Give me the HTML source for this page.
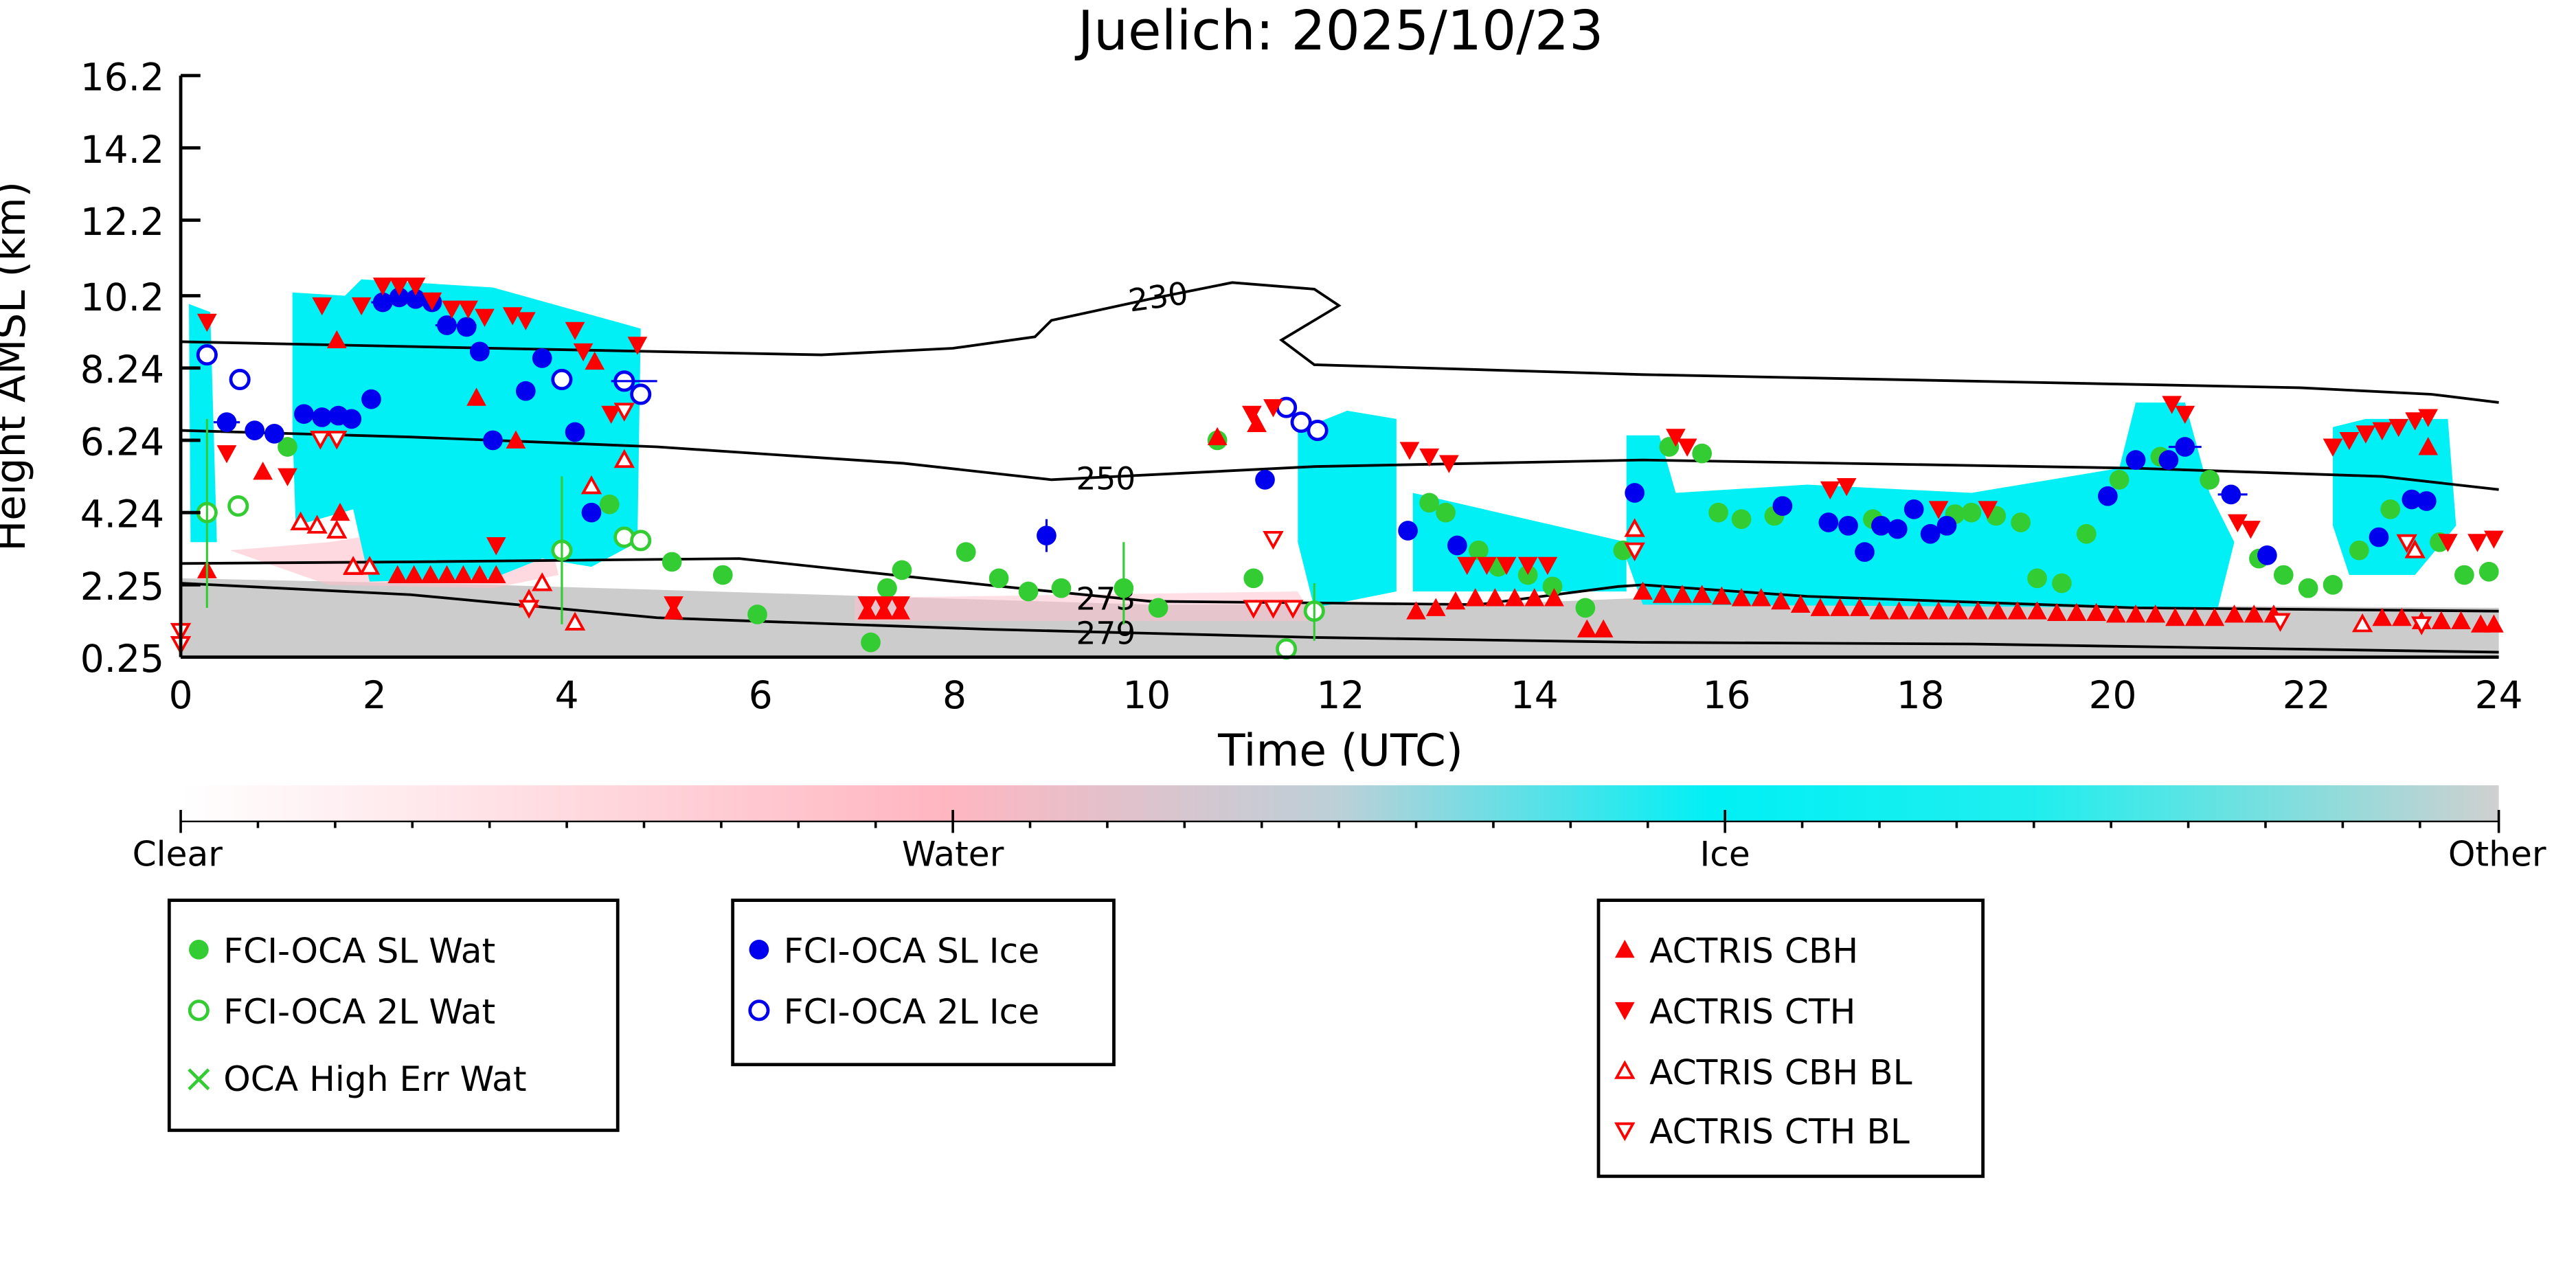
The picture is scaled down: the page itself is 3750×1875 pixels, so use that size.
<!DOCTYPE html>
<html><head><meta charset="utf-8"><style>
html,body{margin:0;padding:0;background:#fff}
svg{display:block}
text{font-family:"DejaVu Sans","Liberation Sans",sans-serif;fill:#000}
</style></head><body>
<svg width="3750" height="1875" viewBox="0 0 1568 784" xmlns="http://www.w3.org/2000/svg">
<defs>
<linearGradient id="cb" x1="0" x2="1" y1="0" y2="0">
<stop offset="0" stop-color="#ffffff"/>
<stop offset="0.33" stop-color="#ffb6c1"/>
<stop offset="0.5" stop-color="#bcd0d8"/>
<stop offset="0.66" stop-color="#00f0f5"/>
<stop offset="0.8" stop-color="#20eeee"/>
<stop offset="1" stop-color="#d0d0d0"/>
</linearGradient>
<circle id="gf" r="6" fill="#33cc33"/>
<circle id="bf" r="6" fill="#0000ee"/>
<circle id="bo" r="5.5" fill="#fff" stroke="#0000ee" stroke-width="2"/>
<circle id="go" r="5.5" fill="#fff" stroke="#33cc33" stroke-width="2"/>
<path id="ru" d="M0,-6 L6,5 L-6,5Z" fill="#ff0000"/>
<path id="rd" d="M0,6 L6,-5 L-6,-5Z" fill="#ff0000"/>
<path id="ruo" d="M0,-5 L5,4 L-5,4Z" fill="#fff" stroke="#ff0000" stroke-width="1.6"/>
<path id="rdo" d="M0,5 L5,-4 L-5,-4Z" fill="#fff" stroke="#ff0000" stroke-width="1.6"/>
</defs>
<text x="816" y="30" font-size="33" text-anchor="middle">Juelich: 2025/10/23</text>
<path d="M110,352 L300,356 L500,362 L700,368 L900,368 L1000,364 L1200,368 L1521,370 L1521,400 L110,400Z" fill="#cccccc"/>
<path d="M140,335 L200,330 L330,310 L340,350 L300,358 L200,356Z" fill="#ffc0cb" opacity="0.6"/>
<path d="M520,364 L790,360 L800,378 L520,378Z" fill="#ffc0cb" opacity="0.5"/>
<g fill="#00f0f5">
<path d="M115,185 L128,190 L132,330 L116,330Z"/>
<path d="M178,178 L210,180 L220,170 L300,175 L390,200 L388,330 L360,345 L330,340 L300,352 L225,354 L215,310 L180,320 L178,260Z"/>
<path d="M790,262 L820,250 L850,255 L850,360 L800,370 L790,330Z"/>
<path d="M860,300 L990,330 L990,360 L860,360Z"/>
<path d="M990,265 L1010,265 L1020,300 L1100,295 L1200,300 L1290,285 L1300,245 L1330,245 L1345,300 L1360,330 L1350,370 L1000,368 L990,340Z"/>
<path d="M1420,260 L1440,255 L1490,255 L1495,320 L1470,350 L1430,350 L1420,320Z"/>
</g>
<g fill="none" stroke="#000" stroke-width="1.6">
<path d="M110,208 L300,212 L500,216 L580,212 L630,205 L640,195 L700,182 L750,172 L800,176 L815,186 L795,198 L780,207 L800,222 L1000,228 L1200,232 L1400,236 L1480,240 L1521,245"/>
<path d="M110,262 L250,266 L400,272 L550,282 L640,292 L700,289 L800,284 L1000,280 L1300,285 L1450,290 L1521,298"/>
<path d="M110,343 L250,342 L450,340 L600,356 L700,366 L900,368 L985,357 L1000,356 L1100,363 L1300,370 L1521,372"/>
<path d="M110,355 L250,362 L400,376 L600,383 L800,388 L1000,391 L1200,392 L1521,397"/>
</g>
<text x="655" y="298" font-size="19">250</text>
<text x="687" y="188" font-size="19" transform="rotate(-8 700 182)">230</text>
<text x="655" y="371" font-size="19">273</text>
<text x="655" y="392" font-size="19">279</text>
<g>
<use href="#gf" x="175" y="272"/><use href="#gf" x="371" y="307"/><use href="#gf" x="409" y="342"/><use href="#gf" x="440" y="350"/><use href="#gf" x="461" y="374"/><use href="#gf" x="530" y="391"/><use href="#gf" x="540" y="358"/><use href="#gf" x="549" y="347"/><use href="#gf" x="588" y="336"/><use href="#gf" x="608" y="352"/><use href="#gf" x="626" y="360"/><use href="#gf" x="646" y="358"/><use href="#gf" x="684" y="358"/><use href="#gf" x="705" y="370"/><use href="#gf" x="741" y="268"/><use href="#gf" x="763" y="352"/><use href="#gf" x="870" y="306"/><use href="#gf" x="880" y="312"/><use href="#gf" x="900" y="335"/><use href="#gf" x="912" y="345"/><use href="#gf" x="930" y="350"/><use href="#gf" x="945" y="357"/><use href="#gf" x="965" y="370"/><use href="#gf" x="988" y="335"/><use href="#gf" x="1016" y="272"/><use href="#gf" x="1036" y="276"/><use href="#gf" x="1046" y="312"/><use href="#gf" x="1060" y="316"/><use href="#gf" x="1080" y="314"/><use href="#gf" x="1140" y="316"/><use href="#gf" x="1190" y="313"/><use href="#gf" x="1200" y="312"/><use href="#gf" x="1215" y="314"/><use href="#gf" x="1230" y="318"/><use href="#gf" x="1240" y="352"/><use href="#gf" x="1255" y="355"/><use href="#gf" x="1270" y="325"/><use href="#gf" x="1290" y="292"/><use href="#gf" x="1315" y="278"/><use href="#gf" x="1345" y="292"/><use href="#gf" x="1375" y="340"/><use href="#gf" x="1390" y="350"/><use href="#gf" x="1405" y="358"/><use href="#gf" x="1420" y="356"/><use href="#gf" x="1436" y="335"/><use href="#gf" x="1455" y="310"/><use href="#gf" x="1485" y="330"/><use href="#gf" x="1500" y="350"/><use href="#gf" x="1515" y="348"/>
<use href="#bf" x="138" y="257"/><use href="#bf" x="155" y="262"/><use href="#bf" x="167" y="264"/><use href="#bf" x="185" y="252"/><use href="#bf" x="196" y="254"/><use href="#bf" x="206" y="253"/><use href="#bf" x="214" y="255"/><use href="#bf" x="226" y="243"/><use href="#bf" x="233" y="184"/><use href="#bf" x="243" y="181"/><use href="#bf" x="253" y="182"/><use href="#bf" x="263" y="184"/><use href="#bf" x="272" y="198"/><use href="#bf" x="284" y="199"/><use href="#bf" x="292" y="214"/><use href="#bf" x="300" y="268"/><use href="#bf" x="320" y="238"/><use href="#bf" x="330" y="218"/><use href="#bf" x="350" y="263"/><use href="#bf" x="360" y="312"/><use href="#bf" x="637" y="326"/><use href="#bf" x="770" y="292"/><use href="#bf" x="857" y="323"/><use href="#bf" x="887" y="332"/><use href="#bf" x="995" y="300"/><use href="#bf" x="1085" y="308"/><use href="#bf" x="1113" y="318"/><use href="#bf" x="1125" y="320"/><use href="#bf" x="1135" y="336"/><use href="#bf" x="1145" y="320"/><use href="#bf" x="1155" y="322"/><use href="#bf" x="1165" y="310"/><use href="#bf" x="1175" y="325"/><use href="#bf" x="1185" y="320"/><use href="#bf" x="1283" y="302"/><use href="#bf" x="1300" y="280"/><use href="#bf" x="1320" y="280"/><use href="#bf" x="1330" y="272"/><use href="#bf" x="1358" y="301"/><use href="#bf" x="1380" y="338"/><use href="#bf" x="1448" y="327"/><use href="#bf" x="1468" y="304"/><use href="#bf" x="1477" y="305"/>
<use href="#bo" x="126" y="216"/><use href="#bo" x="146" y="231"/><use href="#bo" x="342" y="231"/><use href="#bo" x="380" y="232"/><use href="#bo" x="390" y="240"/><use href="#bo" x="783" y="248"/><use href="#bo" x="792" y="257"/><use href="#bo" x="802" y="262"/>
<use href="#go" x="126" y="312"/><use href="#go" x="145" y="308"/><use href="#go" x="342" y="335"/><use href="#go" x="380" y="327"/><use href="#go" x="390" y="329"/><use href="#go" x="800" y="372"/><use href="#go" x="783" y="395"/>
<use href="#rd" x="126" y="196"/><use href="#ru" x="126" y="347"/><use href="#rd" x="138" y="276"/><use href="#ru" x="160" y="287"/><use href="#rd" x="175" y="290"/><use href="#rd" x="196" y="186"/><use href="#ru" x="205" y="207"/><use href="#rd" x="220" y="186"/><use href="#ru" x="207" y="312"/><use href="#ru" x="215" y="345"/><use href="#rd" x="233" y="174"/><use href="#rd" x="243" y="174"/><use href="#rd" x="253" y="174"/><use href="#rd" x="263" y="183"/><use href="#rd" x="275" y="188"/><use href="#rd" x="285" y="188"/><use href="#rd" x="295" y="193"/><use href="#ru" x="242" y="350"/><use href="#ru" x="252" y="350"/><use href="#ru" x="262" y="350"/><use href="#ru" x="272" y="350"/><use href="#ru" x="282" y="350"/><use href="#ru" x="292" y="350"/><use href="#ru" x="302" y="350"/><use href="#rd" x="302" y="332"/><use href="#rd" x="312" y="192"/><use href="#rd" x="320" y="195"/><use href="#ru" x="290" y="242"/><use href="#ru" x="314" y="268"/><use href="#rd" x="350" y="201"/><use href="#rd" x="355" y="214"/><use href="#ru" x="362" y="220"/><use href="#rd" x="372" y="252"/><use href="#rd" x="388" y="210"/><use href="#rd" x="410" y="368"/><use href="#ru" x="410" y="372"/><use href="#ru" x="528" y="372"/><use href="#ru" x="538" y="372"/><use href="#ru" x="548" y="372"/><use href="#rd" x="528" y="368"/><use href="#rd" x="538" y="368"/><use href="#rd" x="548" y="368"/><use href="#ru" x="741" y="266"/><use href="#rd" x="762" y="252"/><use href="#rd" x="775" y="248"/><use href="#ru" x="765" y="258"/><use href="#rd" x="858" y="274"/><use href="#rd" x="870" y="278"/><use href="#rd" x="882" y="282"/><use href="#rd" x="893" y="344"/><use href="#rd" x="905" y="344"/><use href="#rd" x="917" y="344"/><use href="#rd" x="930" y="344"/><use href="#rd" x="942" y="344"/><use href="#ru" x="862" y="372"/><use href="#ru" x="874" y="370"/><use href="#ru" x="886" y="366"/><use href="#ru" x="898" y="364"/><use href="#ru" x="910" y="364"/><use href="#ru" x="922" y="364"/><use href="#ru" x="934" y="364"/><use href="#ru" x="946" y="364"/><use href="#ru" x="966" y="383"/><use href="#ru" x="976" y="383"/><use href="#rd" x="1020" y="266"/><use href="#rd" x="1027" y="272"/><use href="#rd" x="1114" y="298"/><use href="#rd" x="1124" y="296"/><use href="#rd" x="1180" y="310"/><use href="#rd" x="1210" y="310"/><use href="#rd" x="1322" y="246"/><use href="#rd" x="1330" y="252"/><use href="#rd" x="1362" y="318"/><use href="#rd" x="1370" y="322"/><use href="#rd" x="1420" y="272"/><use href="#rd" x="1430" y="268"/><use href="#rd" x="1440" y="264"/><use href="#rd" x="1450" y="262"/><use href="#rd" x="1460" y="260"/><use href="#rd" x="1470" y="256"/><use href="#rd" x="1478" y="254"/><use href="#ru" x="1478" y="272"/><use href="#rd" x="1490" y="330"/><use href="#rd" x="1508" y="330"/><use href="#rd" x="1518" y="328"/>
<use href="#ru" x="1000" y="360"/><use href="#ru" x="1012" y="362"/><use href="#ru" x="1024" y="362"/><use href="#ru" x="1036" y="362"/><use href="#ru" x="1048" y="363"/><use href="#ru" x="1060" y="364"/><use href="#ru" x="1072" y="364"/><use href="#ru" x="1084" y="366"/><use href="#ru" x="1096" y="368"/><use href="#ru" x="1108" y="370"/><use href="#ru" x="1120" y="370"/><use href="#ru" x="1132" y="370"/><use href="#ru" x="1144" y="372"/><use href="#ru" x="1156" y="372"/><use href="#ru" x="1168" y="372"/><use href="#ru" x="1180" y="372"/><use href="#ru" x="1192" y="372"/><use href="#ru" x="1204" y="372"/><use href="#ru" x="1216" y="372"/><use href="#ru" x="1228" y="372"/><use href="#ru" x="1240" y="372"/><use href="#ru" x="1252" y="373"/><use href="#ru" x="1264" y="373"/><use href="#ru" x="1276" y="373"/><use href="#ru" x="1288" y="374"/><use href="#ru" x="1300" y="374"/><use href="#ru" x="1312" y="374"/><use href="#ru" x="1324" y="376"/><use href="#ru" x="1336" y="376"/><use href="#ru" x="1348" y="376"/><use href="#ru" x="1360" y="374"/><use href="#ru" x="1372" y="374"/><use href="#ru" x="1384" y="374"/><use href="#ru" x="1450" y="376"/><use href="#ru" x="1462" y="376"/><use href="#ru" x="1474" y="378"/><use href="#ru" x="1486" y="378"/><use href="#ru" x="1498" y="378"/><use href="#ru" x="1510" y="380"/><use href="#ru" x="1518" y="380"/>
<use href="#rdo" x="110" y="384"/><use href="#rdo" x="110" y="392"/><use href="#ruo" x="183" y="318"/><use href="#ruo" x="193" y="320"/><use href="#ruo" x="205" y="323"/><use href="#rdo" x="195" y="267"/><use href="#rdo" x="205" y="267"/><use href="#ruo" x="215" y="345"/><use href="#ruo" x="225" y="345"/><use href="#ruo" x="322" y="365"/><use href="#ruo" x="330" y="355"/><use href="#rdo" x="322" y="370"/><use href="#ruo" x="350" y="379"/><use href="#ruo" x="360" y="296"/><use href="#ruo" x="380" y="280"/><use href="#rdo" x="380" y="250"/><use href="#rdo" x="763" y="370"/><use href="#rdo" x="775" y="370"/><use href="#rdo" x="787" y="370"/><use href="#rdo" x="775" y="328"/><use href="#ruo" x="995" y="322"/><use href="#rdo" x="995" y="335"/><use href="#rdo" x="1388" y="378"/><use href="#ruo" x="1438" y="380"/><use href="#ruo" x="1470" y="335"/><use href="#rdo" x="1465" y="330"/><use href="#rdo" x="1474" y="380"/>
<g stroke="#33cc33" stroke-width="1.3">
<line x1="126" y1="255" x2="126" y2="370"/><line x1="342" y1="290" x2="342" y2="380"/><line x1="684" y1="330" x2="684" y2="380"/><line x1="800" y1="355" x2="800" y2="390"/>
</g>
<g stroke="#0000ee" stroke-width="1.3">
<line x1="130" y1="257" x2="146" y2="257"/><line x1="226" y1="184" x2="260" y2="184"/><line x1="265" y1="198" x2="290" y2="198"/><line x1="372" y1="232" x2="400" y2="232"/><line x1="637" y1="316" x2="637" y2="336"/><line x1="1350" y1="301" x2="1368" y2="301"/><line x1="1320" y1="272" x2="1340" y2="272"/>
</g>
</g>
<g stroke="#000" stroke-width="2" fill="none">
<line x1="110" y1="46" x2="110" y2="400"/>
<line x1="110" y1="400" x2="1521" y2="400"/>
</g>
<g stroke="#000" stroke-width="2">
<line x1="110" y1="46" x2="122" y2="46"/><line x1="110" y1="90" x2="122" y2="90"/><line x1="110" y1="134" x2="122" y2="134"/><line x1="110" y1="180" x2="122" y2="180"/><line x1="110" y1="224" x2="122" y2="224"/><line x1="110" y1="268" x2="122" y2="268"/><line x1="110" y1="312" x2="122" y2="312"/><line x1="110" y1="356" x2="122" y2="356"/>
</g>
<g font-size="23" text-anchor="end">
<text x="100" y="55">16.2</text><text x="100" y="99">14.2</text><text x="100" y="143">12.2</text><text x="100" y="189">10.2</text><text x="100" y="233">8.24</text><text x="100" y="277">6.24</text><text x="100" y="321">4.24</text><text x="100" y="365">2.25</text><text x="100" y="409">0.25</text>
</g>
<g font-size="23" text-anchor="middle">
<text x="110" y="431">0</text><text x="228" y="431">2</text><text x="345" y="431">4</text><text x="463" y="431">6</text><text x="581" y="431">8</text><text x="698" y="431">10</text><text x="816" y="431">12</text><text x="934" y="431">14</text><text x="1051" y="431">16</text><text x="1169" y="431">18</text><text x="1286" y="431">20</text><text x="1404" y="431">22</text><text x="1521" y="431">24</text>
</g>
<text x="816" y="466" font-size="27" text-anchor="middle">Time (UTC)</text>
<text transform="translate(15 223) rotate(-90)" font-size="25" text-anchor="middle">Height AMSL (km)</text>
<rect x="110" y="478" width="1411" height="22" fill="url(#cb)"/>
<line x1="110" y1="500" x2="1521" y2="500" stroke="#000" stroke-width="1"/>
<g stroke="#000" stroke-width="1.5">
<line x1="110" y1="493" x2="110" y2="507"/><line x1="580" y1="493" x2="580" y2="507"/><line x1="1050" y1="493" x2="1050" y2="507"/><line x1="1521" y1="493" x2="1521" y2="507"/>
<path d="M157,500v4M204,500v4M251,500v4M298,500v4M345,500v4M392,500v4M439,500v4M486,500v4M533,500v4M627,500v4M674,500v4M721,500v4M768,500v4M815,500v4M862,500v4M909,500v4M956,500v4M1003,500v4M1097,500v4M1144,500v4M1191,500v4M1238,500v4M1285,500v4M1332,500v4M1379,500v4M1426,500v4M1473,500v4"/>
</g>
<g font-size="21" text-anchor="middle">
<text x="108" y="527">Clear</text><text x="580" y="527">Water</text><text x="1050" y="527">Ice</text><text x="1520" y="527">Other</text>
</g>
<g fill="none" stroke="#000" stroke-width="2">
<rect x="103" y="548" width="273" height="140"/>
<rect x="446" y="548" width="232" height="100"/>
<rect x="973" y="548" width="234" height="168"/>
</g>
<g font-size="21">
<use href="#gf" x="121" y="578"/><text x="136" y="586">FCI-OCA SL Wat</text>
<use href="#go" x="121" y="615"/><text x="136" y="623">FCI-OCA 2L Wat</text>
<path d="M115,651l12,12M127,651l-12,12" stroke="#33cc33" stroke-width="2"/><text x="136" y="664">OCA High Err Wat</text>
<use href="#bf" x="462" y="578"/><text x="477" y="586">FCI-OCA SL Ice</text>
<use href="#bo" x="462" y="615"/><text x="477" y="623">FCI-OCA 2L Ice</text>
<use href="#ru" x="989" y="578"/><text x="1004" y="586">ACTRIS CBH</text>
<use href="#rd" x="989" y="615"/><text x="1004" y="623">ACTRIS CTH</text>
<use href="#ruo" x="989" y="652"/><text x="1004" y="660">ACTRIS CBH BL</text>
<use href="#rdo" x="989" y="688"/><text x="1004" y="696">ACTRIS CTH BL</text>
</g>
</svg>
</body></html>
